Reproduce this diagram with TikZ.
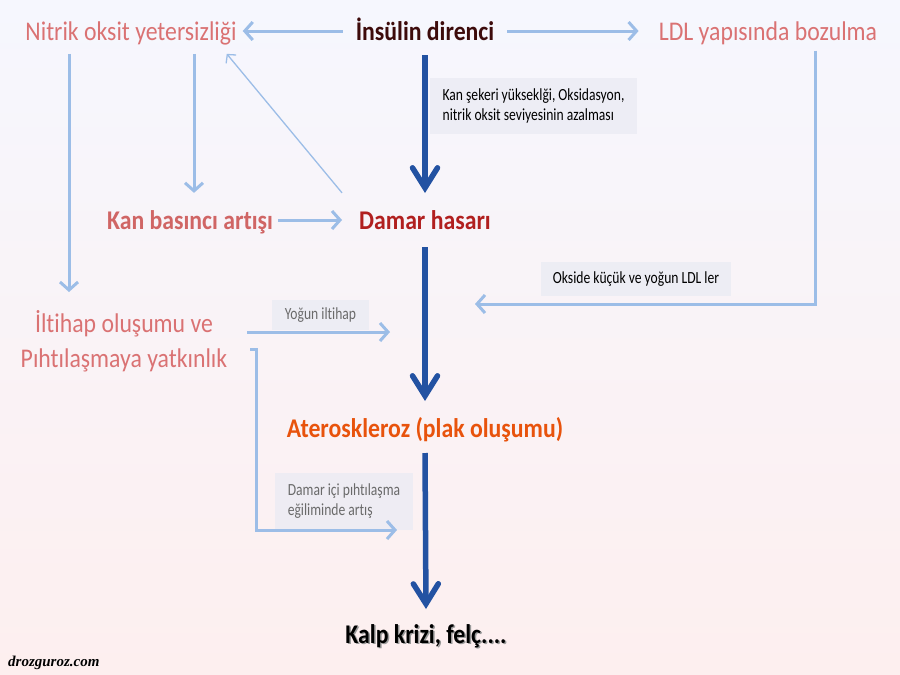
\documentclass[tikz,border=0pt]{standalone}
\usepackage{fontspec}
\setmainfont{Carlito}[FakeStretch=0.88, Ligatures=NoCommon]
\newfontfamily\labfont{Carlito}[FakeStretch=0.8, Ligatures=NoCommon]
\newfontfamily\wmfont{Liberation Serif}
\usetikzlibrary{arrows.meta}
\definecolor{bgtop}{HTML}{F6F7FE}
\definecolor{bgmid}{HTML}{FBFAFC}
\definecolor{bgbot}{HTML}{FDEFEF}
\definecolor{lblue}{HTML}{9CBDE7}
\definecolor{dblue}{HTML}{2352A2}
\definecolor{pinkt}{HTML}{DA7273}
\definecolor{kanc}{HTML}{D06565}
\definecolor{damc}{HTML}{B11F1F}
\definecolor{insc}{HTML}{3D0B0B}
\definecolor{atec}{HTML}{E8530C}
\definecolor{labbg}{HTML}{ECECF4}
\definecolor{labgray}{HTML}{6A6A6A}
\begin{document}
\begin{tikzpicture}[x=1pt,y=-1pt,
  big/.style={inner sep=0pt, anchor=base, font=\fontsize{27}{35}\selectfont},
  labbox/.style={fill=labbg, fill opacity=0.85, text opacity=1, inner ysep=0pt,
    font=\labfont\fontsize{17}{20}\selectfont},
  lt/.style={draw=lblue, line width=3pt, -{Straight Barb[length=8pt,width=18pt]}},
  thin/.style={draw=lblue, line width=1.3pt, -{Straight Barb[length=6pt,width=13pt]}},
  tk/.style={draw=dblue, line width=5.5pt, -{Straight Barb[length=20pt,width=25pt,line join=miter,line cap=round]}}
]
\shade[top color=bgtop, middle color=bgmid, bottom color=bgbot] (0,0) rectangle (900,675);
\useasboundingbox (0,0) rectangle (900,675);

% main texts
\node[big, text=insc, font=\fontsize{27}{35}\selectfont\bfseries] (ins) at (425,40) {İnsülin direnci};
\node[big, text=pinkt] (nit) at (131,40) {Nitrik oksit yetersizliği};
\node[big, text=pinkt] (ldl) at (768,40) {LDL yapısında bozulma};
\node[big, text=kanc, font=\fontsize{27}{35}\selectfont\bfseries] (kan) at (190,229) {Kan basıncı artışı};
\node[big, text=damc, font=\fontsize{27}{35}\selectfont\bfseries] (dam) at (425,229) {Damar hasarı};
\node[big, text=pinkt, anchor=center, align=center] (ilt) at (124,341) {İltihap oluşumu ve\\Pıhtılaşmaya yatkınlık};
\node[big, text=atec, font=\fontsize{27}{35}\selectfont\bfseries] (ate) at (425,437) {Ateroskleroz (plak oluşumu)};
\node[big, text=black!40, font=\fontsize{27}{35}\selectfont\bfseries] (kalpsh) at (427.5,644.5) {Kalp krizi, felç....};
\node[big, text=black, font=\fontsize{27}{35}\selectfont\bfseries] (kalp) at (426,643) {Kalp krizi, felç....};
\node[inner sep=0pt, anchor=base west, font=\wmfont\bfseries\itshape\fontsize{15}{17}\selectfont] (wm) at (8,666) {drozguroz.com};

% label boxes
\node[labbox, minimum width=207pt, minimum height=56pt, align=left] (lab1) at (533.5,106)
  {Kan şekeri yükseklği, Oksidasyon,\\nitrik oksit seviyesinin azalması};
\node[labbox, minimum width=190pt, minimum height=34pt] (lab2) at (636,279) {Okside küçük ve yoğun LDL ler};
\node[labbox, text=labgray, minimum width=97pt, minimum height=30pt] (lab3) at (320.5,315) {Yoğun iltihap};
\node[labbox, text=labgray, minimum width=138pt, minimum height=57pt, align=left] (lab4) at (344,501.5)
  {Damar içi pıhtılaşma\\eğiliminde artış};

% free ends
\coordinate (ldlturn) at (815,304);
\coordinate (ldlend) at (475,304);
\coordinate (iltend) at (390,332);
\coordinate (pstart) at (250,349);
\coordinate (pturn1) at (256,349);
\coordinate (pturn2) at (256,530);
\coordinate (pend) at (397,530);

% connectors
\draw[lt] ([xshift=-13pt]ins.west |- 0,31) -- ([xshift=6pt]nit.east |- 0,31);
\draw[lt] ([xshift=13pt]ins.east |- 0,31) -- ([xshift=-20pt]ldl.west |- 0,31);
\draw[tk] (ins.south |- 0,55) -- (dam.north |- 0,193);
\draw[lt, shorten <=9pt, shorten >=17pt] (nit.south -| 194,0) -- (kan.north -| 194,0);
\draw[lt, shorten <=9pt, shorten >=18pt] (nit.south -| 69,0) -- (ilt.north -| 69,0);
\draw[thin] ([shift={(-17,-17)}]dam.north west) -- ([shift={(-10,9)}]nit.south east);
\draw[lt] ([xshift=5pt]kan.east |- 0,220) -- ([xshift=-17pt]dam.west |- 0,220);
\draw[tk] (dam.south |- 0,247) -- (ate.north |- 0,401);
\draw[lt, shorten <=6pt] (ldl.south -| ldlturn) -- (ldlturn) -- (ldlend);
\draw[lt] ([xshift=20pt]ilt.east |- iltend) -- (iltend);
\draw[lt] (pstart) -- (pturn1) -- (pturn2) -- (pend);
\draw[tk] (ate.south |- 0,453) -- (kalp.north |- 0,609);
\end{tikzpicture}
\end{document}
